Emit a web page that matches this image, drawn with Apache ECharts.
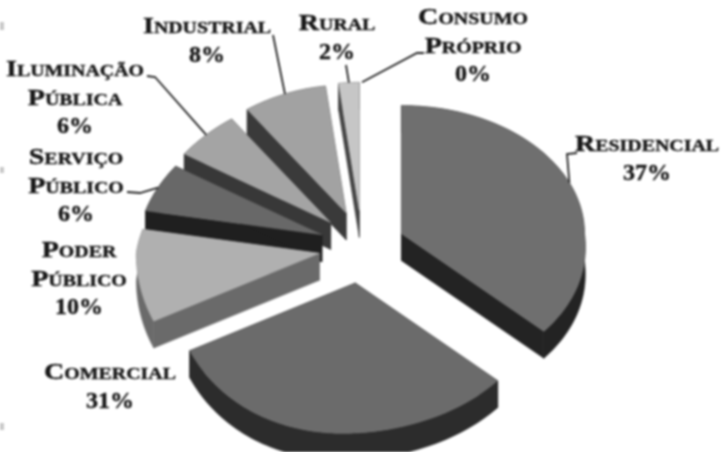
<!DOCTYPE html>
<html>
<head>
<meta charset="utf-8">
<style>
    html, body { margin: 0; padding: 0; background: #fff; }
    #chart { width: 726px; height: 452px; filter: blur(0.8px); }
</style>
<script src="https://cdn.jsdelivr.net/npm/echarts@6/dist/echarts.min.js"></script>
</head>
<body>
<div id="chart"></div>
<script>
"use strict";
// clockwise from 12 o'clock
const categories = [
    ["Residencial"],
    ["Comercial"],
    ["Poder", "Público"],
    ["Serviço", "Público"],
    ["Iluminação", "Pública"],
    ["Industrial"],
    ["Rural"],
    ["Consumo", "Próprio"]
];
const shares = [37, 31, 10, 6, 6, 8, 2, 0];
const topColors = ["#6f6f6f", "#6b6b6b", "#b0b0b0", "#686868", "#a4a4a4", "#a2a2a2", "#c6c6c6", "#c6c6c6"];
const sideColors = ["#232323", "#2c2c2c", "#6a6a6a", "#1f1f1f", "#383838", "#3a3a3a", "#444444", "#444444"];
// centre x, y of the first line
const labelAnchors = [[647, 145], [110, 373], [79, 251], [76, 158], [75, 70], [207, 27], [337, 24], [473, 18]];
// leader line elbows, running from the slice rim out to the label
const leaderElbows = [
    [[567, 154], [577, 153]],
    [],
    [],
    [[140, 193], [127, 192]],
    [[155, 77], [147, 76]],
    [[273, 35]],
    [[346, 65]],
    [[417, 53], [424, 53]]
];
const scanMarks = [[0, 22, 4, 8], [0, 167, 4, 6], [0, 423, 4, 7]];

const pieCenter = [362, 249];
const explodeDistance = 43;
const explodeSquashBack = 0.9;
const explodeSquashFront = 0.8;
const sideDepth = 27;
const labelLineHeight = 28.5;
const nameFont = "small-caps bold 24px 'Liberation Serif'";
const nameStretch = 1.17;
const percentFont = "bold 24px 'Liberation Serif'";
const labelColor = "#161616";

const total = shares.reduce((sum, share) => sum + share, 0);
const toAngle = (share) => (share / total) * Math.PI * 2;

const startAngles = [];
shares.reduce((angle, share, index) => {
    startAngles[index] = angle;
    return angle + toAngle(share);
}, 0);

// the picture is a tilted pie in perspective: nearer rim is stretched
const rimOffset = (angle) => {
    const sin = Math.sin(angle);
    const cos = Math.cos(angle);
    const radiusY = cos > 0 ? 128 : 150 - 10 * sin;
    return [183 * sin + 18 * Math.max(0, -cos * sin), -cos * radiusY];
};

const sliceGeometry = (index) => {
    const start = startAngles[index];
    const end = start + toAngle(shares[index]);
    const middle = (start + end) / 2;
    const squash = Math.cos(middle) > 0 ? explodeSquashBack : explodeSquashFront;
    const apex = [
        pieCenter[0] + explodeDistance * Math.sin(middle),
        pieCenter[1] - explodeDistance * squash * Math.cos(middle)
    ];
    const rim = [];
    const steps = Math.max(2, Math.ceil((end - start) * 40));
    for (let step = 0; step <= steps; step += 1) {
        const offset = rimOffset(start + ((end - start) * step) / steps);
        rim.push([apex[0] + offset[0], apex[1] + offset[1]]);
    }
    const middleOffset = rimOffset(middle);
    return { apex, rim, middle, rimMiddle: [apex[0] + middleOffset[0], apex[1] + middleOffset[1]] };
};

const lowered = (points) => points.map((point) => [point[0], point[1] + sideDepth]);

const renderSlice = (params) => {
    const index = params.dataIndex;
    const geometry = sliceGeometry(index);
    const depthOrder = Math.round(100 - Math.cos(geometry.middle) * 100);
    const children = [];

    if (shares[index] > 0) {
        const outline = [geometry.apex].concat(geometry.rim);
        const wallStyle = { fill: sideColors[index], stroke: sideColors[index], lineWidth: 0.5 };
        // walls first, the top face covers whatever faces away from us
        children.push({
            type: "polygon",
            z2: depthOrder,
            shape: { points: geometry.rim.concat(lowered(geometry.rim).reverse()) },
            style: wallStyle
        });
        [geometry.rim[0], geometry.rim[geometry.rim.length - 1]].forEach((edge) => {
            children.push({
                type: "polygon",
                z2: depthOrder,
                shape: { points: [geometry.apex, edge, [edge[0], edge[1] + sideDepth], [geometry.apex[0], geometry.apex[1] + sideDepth]] },
                style: wallStyle
            });
        });
        children.push({
            type: "polygon",
            z2: depthOrder + 1,
            shape: { points: outline },
            style: { fill: topColors[index], stroke: topColors[index], lineWidth: 0.5 }
        });
    }

    if (leaderElbows[index].length > 0) {
        children.push({
            type: "polyline",
            z2: 400,
            shape: { points: [geometry.rimMiddle].concat(leaderElbows[index]) },
            style: { stroke: "#222222", lineWidth: 1.8, fill: "none" }
        });
    }

    const anchor = labelAnchors[index];
    const names = categories[index];
    children.push({
        type: "text",
        z2: 500,
        x: anchor[0],
        y: anchor[1] - labelLineHeight / 2,
        scaleX: nameStretch,
        style: {
            text: names.join("\n"),
            font: nameFont,
            fill: labelColor,
            stroke: labelColor,
            lineWidth: 0.4,
            align: "center",
            verticalAlign: "top",
            lineHeight: labelLineHeight
        }
    });
    children.push({
        type: "text",
        z2: 500,
        x: anchor[0],
        y: anchor[1] - labelLineHeight / 2 + names.length * labelLineHeight,
        style: {
            text: shares[index] + "%",
            font: percentFont,
            fill: labelColor,
            stroke: labelColor,
            lineWidth: 0.4,
            align: "center",
            verticalAlign: "top",
            lineHeight: labelLineHeight
        }
    });

    return { type: "group", children };
};

const chart = echarts.init(document.getElementById("chart"));
chart.setOption({
    animation: false,
    backgroundColor: "#ffffff",
    graphic: scanMarks.map((mark) => ({
        type: "rect",
        shape: { x: mark[0], y: mark[1], width: mark[2], height: mark[3] },
        style: { fill: "#c8c8c8" }
    })),
    series: [{
        type: "custom",
        coordinateSystem: "none",
        renderItem: renderSlice,
        data: shares
    }]
});
</script>
</body>
</html>
